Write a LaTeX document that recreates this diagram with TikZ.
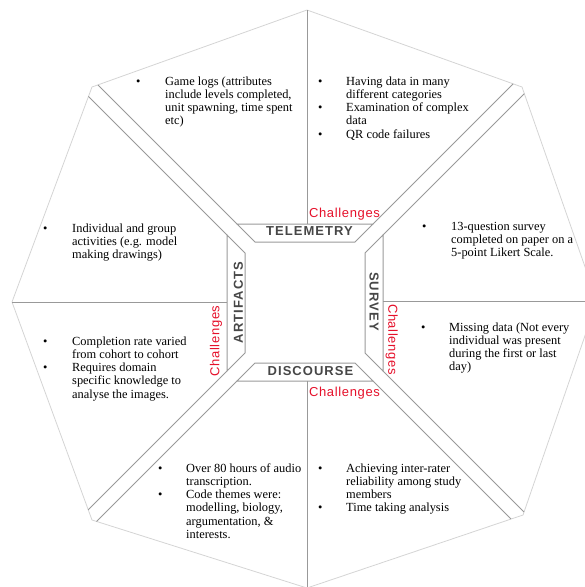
\documentclass[tikz,border=0pt]{standalone}
\usepackage{fontspec}
\setmainfont{Liberation Serif}
\newfontfamily\labfont[LetterSpace=8]{Liberation Sans}
\newfontfamily\chalfont[LetterSpace=5]{Liberation Sans}
\definecolor{linegray}{HTML}{999999}
\definecolor{octgray}{HTML}{D4D4D4}
\definecolor{labgray}{HTML}{474747}
\definecolor{chred}{HTML}{E5102A}
\begin{document}
\begin{tikzpicture}[x=1pt,y=-1pt,
  bandline/.style={draw=linegray, line width=1pt, line join=miter},
  octline/.style={draw=octgray, line width=0.8pt},
  bandlabel/.style={font=\labfont\bfseries\fontsize{13}{13}\selectfont, text=labgray, inner sep=0pt},
  chal/.style={font=\chalfont\fontsize{13}{13}\selectfont, text=chred, inner sep=0pt},
  body/.style={font=\fontsize{12.4}{13.3}\selectfont, inner sep=0pt, anchor=base west, align=left}
]
\useasboundingbox (0,0) rectangle (585,587);
\clip (0,0) rectangle (585,587);
% octagon
\coordinate (O1) at (307,10);
\coordinate (O2) at (522,87);
\coordinate (O3) at (597,301);
\coordinate (O4) at (523,515);
\coordinate (O5) at (307,588);
\coordinate (O6) at (92,520);
\coordinate (O7) at (12,302);
\coordinate (O8) at (92,87);
\draw[octline] (O1) -- (O2) -- (O3) -- (O4) -- (O5) -- (O6) -- (O7) -- (O8) -- cycle;
% trapezoids
\coordinate (T1) at (237,224); \coordinate (T2) at (373,224);
\coordinate (T3) at (355,242); \coordinate (T4) at (255,242);
\coordinate (S1) at (383,235); \coordinate (S2) at (383,371);
\coordinate (S3) at (365,353); \coordinate (S4) at (365,253);
\coordinate (D1) at (373,381); \coordinate (D2) at (237,381);
\coordinate (D3) at (255,363); \coordinate (D4) at (355,363);
\coordinate (A1) at (227,371); \coordinate (A2) at (227,235);
\coordinate (A3) at (245,253); \coordinate (A4) at (245,353);
\draw[bandline] (T1) -- (T2) -- (T3) -- (T4) -- cycle;
\draw[bandline] (S1) -- (S2) -- (S3) -- (S4) -- cycle;
\draw[bandline] (D1) -- (D2) -- (D3) -- (D4) -- cycle;
\draw[bandline] (A1) -- (A2) -- (A3) -- (A4) -- cycle;
% diagonal corridors
\draw[bandline] (intersection of T1--T4 and O8--O1) -- (T1);
\draw[bandline] (intersection of A2--A3 and O7--O8) -- (A2);
\draw[bandline] (intersection of T2--T3 and O1--O2) -- (T2);
\draw[bandline] (intersection of S1--S4 and O2--O3) -- (S1);
\draw[bandline] (intersection of S2--S3 and O3--O4) -- (S2);
\draw[bandline] (intersection of D1--D4 and O4--O5) -- (D1);
\draw[bandline] (intersection of D2--D3 and O5--O6) -- (D2);
\draw[bandline] (intersection of A1--A4 and O6--O7) -- (A1);
% axial lines
\draw[bandline] (O1) -- (O1 |- T1);
\draw[bandline] (S1 |- O3) -- (O3);
\draw[bandline] (O5) -- (O5 |- D1);
\draw[bandline] (O7) -- (A1 |- O7);
% band labels
\node[bandlabel] (tele) at (309.5,231.5) {TELEMETRY};
\node[bandlabel, rotate=-90] (surv) at (374,301.5) {SURVEY};
\node[bandlabel] (disc) at (310.5,371.5) {DISCOURSE};
\node[bandlabel, rotate=90] (arti) at (238.5,302.5) {ARTIFACTS};
% challenges
\node[chal, anchor=base] (ch1) at (344.5,217.5) {Challenges};
\node[chal, rotate=-90] (ch2) at (391.7,339.5) {Challenges};
\node[chal, anchor=base] (ch3) at (344.5,396) {Challenges};
\node[chal, rotate=90] (ch4) at (216,341) {Challenges};
% body texts
\node[body] (tl) at (136,85) {\begin{tabular}[t]{@{}p{29pt}@{}l@{}}
\textbullet & Game logs (attributes\\ & include levels completed,\\ & unit spawning, time spent\\ & etc)\end{tabular}};
\node[body] (tr) at (318,85) {\begin{tabular}[t]{@{}p{28pt}@{}l@{}}
\textbullet & Having data in many\\ & different categories\\
\textbullet & Examination of complex\\ & data\\
\textbullet & QR code failures\end{tabular}};
\node[body] (r1) at (422,230) {\begin{tabular}[t]{@{}p{29pt}@{}l@{}}
\textbullet & 13-question survey\\ & completed on paper on a\\ & 5-point Likert Scale.\end{tabular}};
\node[body] (r2) at (421,331) {\begin{tabular}[t]{@{}p{28pt}@{}l@{}}
\textbullet & Missing data (Not every\\ & individual was present\\ & during the first or last\\ & day)\end{tabular}};
\node[body] (br) at (318,472) {\begin{tabular}[t]{@{}p{28pt}@{}l@{}}
\textbullet & Achieving inter-rater\\ & reliability among study\\ & members\\
\textbullet & Time taking analysis\end{tabular}};
\node[body] (bl) at (158,472) {\begin{tabular}[t]{@{}p{28pt}@{}l@{}}
\textbullet & Over 80 hours of audio\\ & transcription.\\
\textbullet & Code themes were:\\ & modelling, biology,\\ & argumentation, \&\\ & interests.\end{tabular}};
\node[body] (l2) at (43,345) {\begin{tabular}[t]{@{}p{29pt}@{}l@{}}
\textbullet & Completion rate varied\\ & from cohort to cohort\\
\textbullet & Requires domain\\ & specific knowledge to\\ & analyse the images.\end{tabular}};
\node[body] (l1) at (43,232) {\begin{tabular}[t]{@{}p{29pt}@{}l@{}}
\textbullet & Individual and group\\ & activities (e.g. model\\ & making drawings)\end{tabular}};
\end{tikzpicture}
\end{document}
